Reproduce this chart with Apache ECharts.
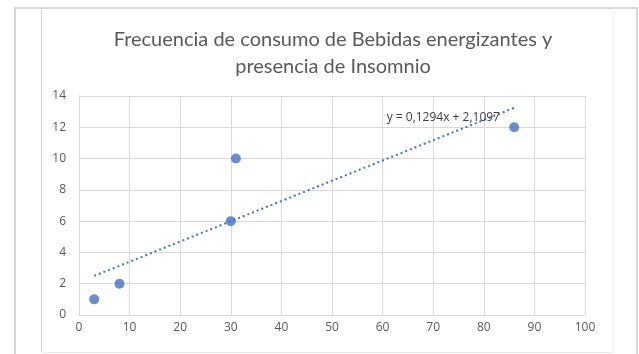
<!DOCTYPE html>
<html>
<head>
<meta charset="utf-8">
<script src="https://cdn.jsdelivr.net/npm/echarts@6/dist/echarts.min.js"></script>
<style>
html,body{margin:0;padding:0;background:#fff;}
#c{width:639px;height:354px;}
</style>
</head>
<body>
<div id="c"></div>
<script>
// Data
var xValues = [3, 8, 30, 31, 86];
var yValues = [1, 2, 6, 10, 12];
var trendX = [3, 86];
var trendY = [2.50, 13.24];
var equationText = 'y = 0,1294x + 2,1097';
var equationAt = [72, 12.6];
var titleText = 'Frecuencia de consumo de Bebidas energizantes y\npresencia de Insomnio';

var pts = xValues.map(function (x, i) { return [x, yValues[i]]; });
var trend = trendX.map(function (x, i) { return [x, trendY[i]]; });

var chart = echarts.init(document.getElementById('c'), null, {renderer: 'canvas'});
var axisLabelStyle = {color: '#595959', fontSize: 12, fontFamily: 'Open Sans'};
chart.setOption({
  animation: false,
  backgroundColor: '#ffffff',
  graphic: [
    {type: 'rect', shape: {x: 15, y: 8, width: 622, height: 350}, style: {fill: 'none', stroke: '#c9c9c9', lineWidth: 1.5}, z: -10},
    {type: 'line', shape: {x1: 41.5, y1: 8, x2: 41.5, y2: 352}, style: {stroke: '#d2d2d2', lineWidth: 1}, z: -9},
    {type: 'line', shape: {x1: 41.5, y1: 352.5, x2: 613, y2: 352.5}, style: {stroke: '#ececec', lineWidth: 1}, z: -9},
    {type: 'line', shape: {x1: 613.5, y1: 8, x2: 613.5, y2: 352}, style: {stroke: '#f2f2f2', lineWidth: 1}, z: -9}
  ],
  title: {
    text: titleText,
    left: 328,
    textAlign: 'center',
    top: 21,
    textStyle: {color: '#595959', fontSize: 20, fontWeight: 'normal', fontFamily: 'Lato', lineHeight: 27}
  },
  grid: {left: 79, right: 54, top: 96, bottom: 39, containLabel: false},
  xAxis: {
    type: 'value', min: 0, max: 100, interval: 10,
    axisLine: {show: true, lineStyle: {color: '#d9d9d9'}},
    axisTick: {show: false},
    axisLabel: Object.assign({margin: 7}, axisLabelStyle),
    splitLine: {show: true, lineStyle: {color: '#d9d9d9', width: 1}}
  },
  yAxis: {
    type: 'value', min: 0, max: 14, interval: 2,
    axisLine: {show: true, lineStyle: {color: '#d9d9d9'}},
    axisTick: {show: false},
    axisLabel: Object.assign({margin: 13}, axisLabelStyle),
    splitLine: {show: true, lineStyle: {color: '#d9d9d9', width: 1}}
  },
  series: [
    {
      type: 'line',
      data: trend,
      showSymbol: false,
      symbol: 'none',
      lineStyle: {color: '#4472C4', width: 2, type: [2, 3]},
      z: 2,
      markPoint: {
        symbol: 'circle', symbolSize: 0,
        data: [{coord: equationAt, value: equationText}],
        label: {show: true, position: 'inside', formatter: equationText, color: '#404040', fontSize: 12, fontFamily: 'Open Sans'}
      }
    },
    {
      type: 'scatter',
      data: pts,
      symbol: 'circle',
      symbolSize: 10,
      itemStyle: {color: '#4472C4'},
      z: 3
    }
  ]
});
</script>
</body>
</html>
